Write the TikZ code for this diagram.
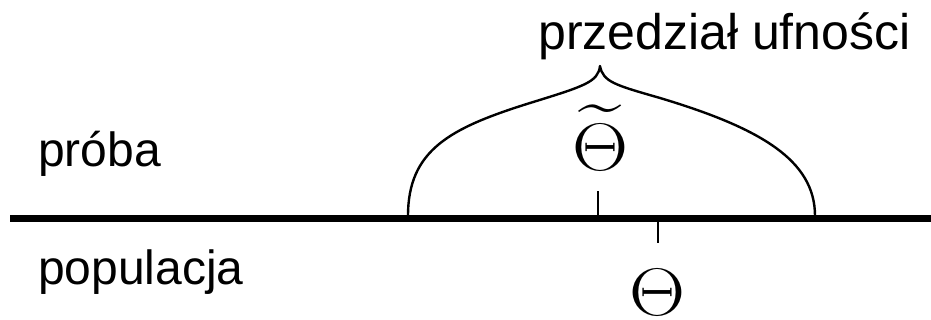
\documentclass[tikz,border=0pt]{standalone}
\usepackage{fontspec}
\setmainfont{Liberation Sans}
\usepackage{amsmath}

\tikzset{
  axisline/.style={line width=7pt},
  tickline/.style={line width=2.6pt},
  braceline/.style={line width=2.4pt, line join=round},
  lbl/.style={inner sep=0pt, font=\fontsize{48}{56}\selectfont},
  toplbl/.style={inner sep=0pt, font=\fontsize{50}{58}\selectfont},
  sym/.style={inner sep=0pt, font=\fontsize{20}{24}\selectfont},
}
\newcommand{\bigsym}[1]{\scalebox{3.75}[3.25]{$#1$}}

\begin{document}
\begin{tikzpicture}[x=1pt, y=-1pt]
\useasboundingbox (0,0) rectangle (931,320);

% ================================================================
% AXIS
% ================================================================
\coordinate (axisL) at (10,219);
\coordinate (axisR) at (931,219);
\draw[axisline] (axisL) -- (axisR);

% labels left
\node[lbl, anchor=base west] (proba) at (38,167) {próba};
\node[lbl, anchor=base west] (popul) at (38,284) {populacja};

% ================================================================
% TICKS: estimate (above) and true value (below)
% ================================================================
\coordinate (estbase) at (598,216);
\coordinate (esttop)  at (598,191);
\coordinate (truebase) at (658,222);
\coordinate (truebot)  at (658,243);
\draw[tickline] (estbase) -- (esttop);
\draw[tickline] (truebase) -- (truebot);

\node[sym, anchor=base] (est) at (600,171) {\bigsym{\widetilde{\Theta}}};
\node[sym, anchor=base] (true) at (657,315) {\bigsym{\Theta}};

% ================================================================
% BRACE (confidence interval)
% ================================================================
\coordinate (lfoot) at (408,216);
\coordinate (lsh)   at (530,103);
\coordinate (peak)  at (600,66);
\coordinate (rsh)   at (660,98);
\coordinate (rfoot) at (815,216);

\draw[braceline]
  (lfoot) .. controls (408,150) and (450,128) .. (lsh)
          .. controls (585,86) and (598,82) .. (peak)
          .. controls (603,82) and (615,85) .. (rsh)
          .. controls (760,128) and (815,160) .. (rfoot);

\node[toplbl, anchor=base west] (ci) at (538,50) {przedział ufności};

\end{tikzpicture}
\end{document}
